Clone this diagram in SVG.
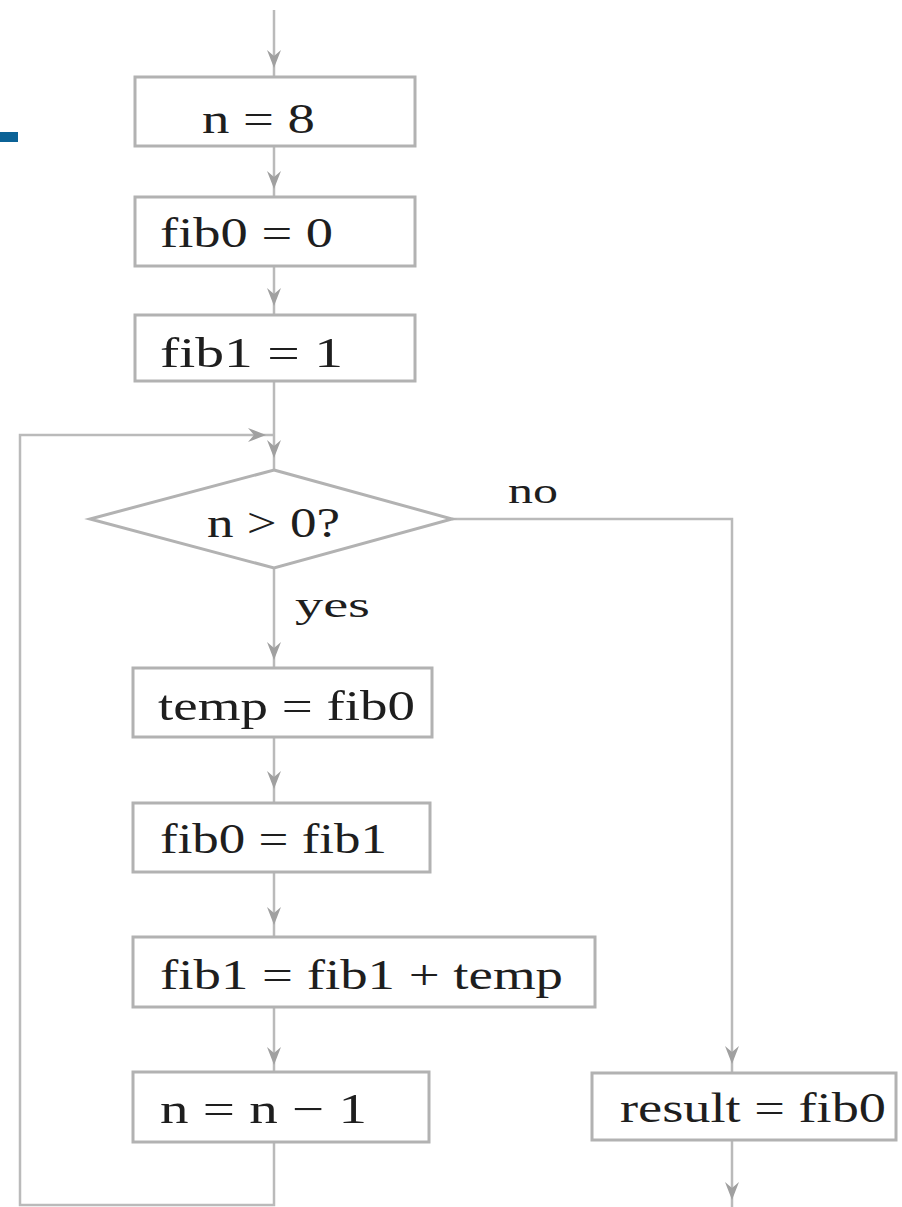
<svg xmlns="http://www.w3.org/2000/svg" xmlns:xlink="http://www.w3.org/1999/xlink" width="902" height="1207" viewBox="0 0 902 1207">
<style>
.box{fill:#ffffff;stroke:#b2b2b2;stroke-width:3}
.t{font-family:"Liberation Serif","Times New Roman",serif;font-size:42px;fill:#1e1e1e}
.lbl{font-size:36px}
.ln{fill:none;stroke:#bababa;stroke-width:2.5}
.ah{fill:#a0a0a0}
</style>
<defs>
<path id="ahd" d="M0 0 L-7 -18 L0 -12 L7 -18 Z"/>
</defs>
<rect x="0" y="132" width="18" height="10" fill="#0b6296"/>
<g id="connectors">
<path class="ln" d="M274 10 V77"/>
<path class="ln" d="M274 146 V197"/>
<path class="ln" d="M274 266 V315"/>
<path class="ln" d="M274 381 V470"/>
<path class="ln" d="M274 568 V668"/>
<path class="ln" d="M274 737 V803"/>
<path class="ln" d="M274 872 V937"/>
<path class="ln" d="M274 1007 V1072"/>
<path class="ln" d="M274 1142 V1205 H20 V435 H274"/>
<path class="ln" d="M452 519 H732 V1073"/>
<path class="ln" d="M732 1140 V1207"/>
<g class="ah">
<use xlink:href="#ahd" href="#ahd" transform="translate(274,68)"/>
<use xlink:href="#ahd" href="#ahd" transform="translate(274,189)"/>
<use xlink:href="#ahd" href="#ahd" transform="translate(274,306)"/>
<use xlink:href="#ahd" href="#ahd" transform="translate(274,458)"/>
<use xlink:href="#ahd" href="#ahd" transform="translate(274,660)"/>
<use xlink:href="#ahd" href="#ahd" transform="translate(274,789)"/>
<use xlink:href="#ahd" href="#ahd" transform="translate(274,925)"/>
<use xlink:href="#ahd" href="#ahd" transform="translate(274,1065)"/>
<use xlink:href="#ahd" href="#ahd" transform="translate(732,1064)"/>
<use xlink:href="#ahd" href="#ahd" transform="translate(732,1200)"/>
<use xlink:href="#ahd" href="#ahd" transform="translate(266,435) rotate(-90)"/>
</g>
<text class="t lbl" x="508" y="503" textLength="50" lengthAdjust="spacingAndGlyphs">no</text>
<text class="t lbl" x="295" y="617" textLength="75" lengthAdjust="spacingAndGlyphs">yes</text>
</g>
<g id="n1">
<rect class="box" x="135" y="77" width="280" height="69"/>
<text class="t" x="202" y="133" textLength="113" lengthAdjust="spacingAndGlyphs">n = 8</text>
</g>
<g id="n2">
<rect class="box" x="135" y="197" width="280" height="69"/>
<text class="t" x="160" y="247" textLength="173" lengthAdjust="spacingAndGlyphs">fib0 = 0</text>
</g>
<g id="n3">
<rect class="box" x="135" y="315" width="280" height="66"/>
<text class="t" x="160" y="367" textLength="183" lengthAdjust="spacingAndGlyphs">fib1 = 1</text>
</g>
<g id="decision">
<polygon class="box" points="274,470 452,519 274,568 90,519"/>
<text class="t" x="207" y="537" textLength="133" lengthAdjust="spacingAndGlyphs">n &gt; 0?</text>
</g>
<g id="n4">
<rect class="box" x="133" y="668" width="299" height="69"/>
<text class="t" x="158" y="720" textLength="257" lengthAdjust="spacingAndGlyphs">temp = fib0</text>
</g>
<g id="n5">
<rect class="box" x="133" y="803" width="297" height="69"/>
<text class="t" x="160" y="853" textLength="227" lengthAdjust="spacingAndGlyphs">fib0 = fib1</text>
</g>
<g id="n6">
<rect class="box" x="133" y="937" width="462" height="70"/>
<text class="t" x="160" y="989" textLength="403" lengthAdjust="spacingAndGlyphs">fib1 = fib1 + temp</text>
</g>
<g id="n7">
<rect class="box" x="133" y="1072" width="296" height="70"/>
<text class="t" x="160" y="1123" textLength="207" lengthAdjust="spacingAndGlyphs">n = n − 1</text>
</g>
<g id="n8">
<rect class="box" x="592" y="1073" width="304" height="67"/>
<text class="t" x="620" y="1122" textLength="266" lengthAdjust="spacingAndGlyphs">result = fib0</text>
</g>
</svg>
